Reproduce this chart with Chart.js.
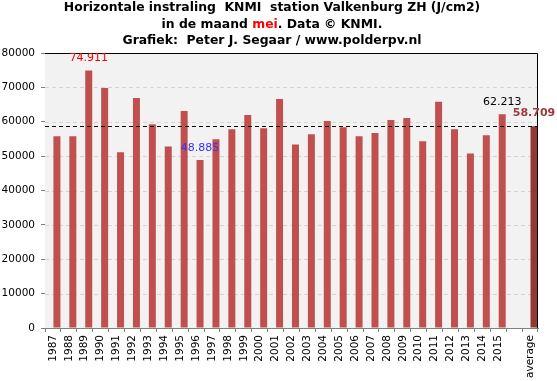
<!DOCTYPE html>
<html>
<head>
<meta charset="utf-8">
<script src="https://cdn.jsdelivr.net/npm/chart.js@4/dist/chart.umd.min.js"></script>
<style>
html,body{margin:0;padding:0;background:#fff;}
#wrap{width:557px;height:381px;position:relative;}
</style>
</head>
<body>
<div id="wrap"><canvas id="c" width="557" height="381"></canvas></div>
<script>
const years = ['1987','1988','1989','1990','1991','1992','1993','1994','1995','1996','1997','1998','1999','2000','2001','2002','2003','2004','2005','2006','2007','2008','2009','2010','2011','2012','2013','2014','2015'];
const radiation = [55800,55800,74911,69800,51100,66900,59300,52800,63100,48885,54900,57850,62000,58100,66600,53400,56400,60200,58400,55800,56700,60500,61100,54300,65800,57800,50800,56100,62213];
const averageLabel = 'average';
const averageValue = 58709;
const yMin = 0, yMax = 80000, yStep = 10000;
const titleLines = [
  [{t:'Horizontale instraling  KNMI  station Valkenburg ZH (J/cm2)', c:'#000'}],
  [{t:'in de maand ', c:'#000'}, {t:'mei', c:'#FF0000'}, {t:'. Data \u00A9 KNMI.', c:'#000'}],
  [{t:'Grafiek:  Peter J. Segaar / www.polderpv.nl', c:'#000'}]
];

const categories = [...years, '', averageLabel];
const values = [...radiation, null, averageValue];
const barColor = '#C0504D', avgColor = '#953735';
const colors = categories.map((c, i) => i === categories.length - 1 ? avgColor : barColor);

const maxIdx = radiation.indexOf(Math.max(...radiation));
const minIdx = radiation.indexOf(Math.min(...radiation));
const lastIdx = radiation.length - 1;
const avgIdx = categories.length - 1;
const fmt = v => (v / 1000).toFixed(3);
const labelSpecs = [
  {i: maxIdx, color: '#FF0000', bold: false, off: 12},
  {i: minIdx, color: '#3333FF', bold: false, off: 12},
  {i: lastIdx, color: '#000000', bold: false, off: 12},
  {i: avgIdx, color: '#A03A3A', bold: true, off: 13}
];

const FONT = '"DejaVu Sans", Verdana, sans-serif';

const decor = {
  id: 'decor',
  beforeDatasetsDraw(chart) {
    const {ctx, chartArea: a, scales: {y}} = chart;
    ctx.save();
    ctx.fillStyle = '#F2F2F2';
    ctx.fillRect(a.left, a.top, a.right - a.left, a.bottom - a.top);
    ctx.strokeStyle = '#D4D4D4';
    ctx.lineWidth = 1;
    ctx.setLineDash([4, 3]);
    for (let v = yMin + yStep; v < yMax; v += yStep) {
      const py = Math.round(y.getPixelForValue(v)) + 0.5;
      ctx.beginPath(); ctx.moveTo(a.left, py); ctx.lineTo(a.right, py); ctx.stroke();
    }
    ctx.restore();
  },
  afterDatasetsDraw(chart) {
    const {ctx, chartArea: a, scales: {y}} = chart;
    ctx.save();
    const py = Math.round(y.getPixelForValue(averageValue)) + 0.5;
    ctx.strokeStyle = '#000';
    ctx.lineWidth = 1;
    ctx.setLineDash([4, 3]);
    ctx.beginPath(); ctx.moveTo(a.left, py); ctx.lineTo(a.right, py); ctx.stroke();
    ctx.setLineDash([]);
    ctx.beginPath();
    ctx.moveTo(a.left, a.top + 0.5); ctx.lineTo(a.right - 0.5, a.top + 0.5); ctx.lineTo(a.right - 0.5, a.bottom);
    ctx.stroke();
    const meta = chart.getDatasetMeta(1);
    ctx.textAlign = 'center';
    ctx.textBaseline = 'middle';
    labelSpecs.forEach(s => {
      const el = meta.data[s.i];
      ctx.fillStyle = s.color;
      ctx.font = (s.bold ? 'bold ' : '') + '11px ' + FONT;
      ctx.fillText(fmt(values[s.i]), el.x, el.y - s.off);
    });
    ctx.font = 'bold 12.4px ' + FONT;
    ctx.textAlign = 'left';
    ctx.textBaseline = 'alphabetic';
    const cx = 272;
    const ys = [11, 28, 44];
    titleLines.forEach((line, li) => {
      const w = line.reduce((s, seg) => s + ctx.measureText(seg.t).width, 0);
      let x = cx - w / 2;
      line.forEach(seg => {
        ctx.fillStyle = seg.c;
        ctx.fillText(seg.t, x, ys[li]);
        x += ctx.measureText(seg.t).width;
      });
    });
    ctx.restore();
  }
};

new Chart(document.getElementById('c'), {
  type: 'bar',
  data: {
    labels: categories,
    datasets: [
      {label: '', data: categories.map(() => null), backgroundColor: 'rgba(0,0,0,0)'},
      {label: 'instraling', data: values, backgroundColor: colors, borderWidth: 0}
    ]
  },
  options: {
    responsive: false,
    animation: false,
    devicePixelRatio: 1,
    categoryPercentage: 1.0,
    barPercentage: 0.88,
    layout: {padding: {top: 53, right: 19, left: 0, bottom: 0}},
    plugins: {legend: {display: false}, tooltip: {enabled: false}, title: {display: false}},
    scales: {
      x: {
        grid: {display: true, drawOnChartArea: false, drawTicks: true, tickLength: 4, tickColor: '#808080', offset: true},
        border: {display: true, color: '#808080'},
        ticks: {minRotation: 90, maxRotation: 90, autoSkip: false, color: '#000', padding: 3, font: {family: FONT, size: 10.5}},
        afterFit(s) { s.height = 53; }
      },
      y: {
        min: yMin, max: yMax,
        grid: {display: true, drawOnChartArea: false, drawTicks: true, tickLength: 4, tickColor: '#808080'},
        border: {display: true, color: '#808080'},
        ticks: {stepSize: yStep, color: '#000', padding: 6, font: {family: FONT, size: 10.5}, callback: v => String(v)},
        afterFit(s) { s.width = 45; }
      }
    }
  },
  plugins: [decor]
});
</script>
</body>
</html>
